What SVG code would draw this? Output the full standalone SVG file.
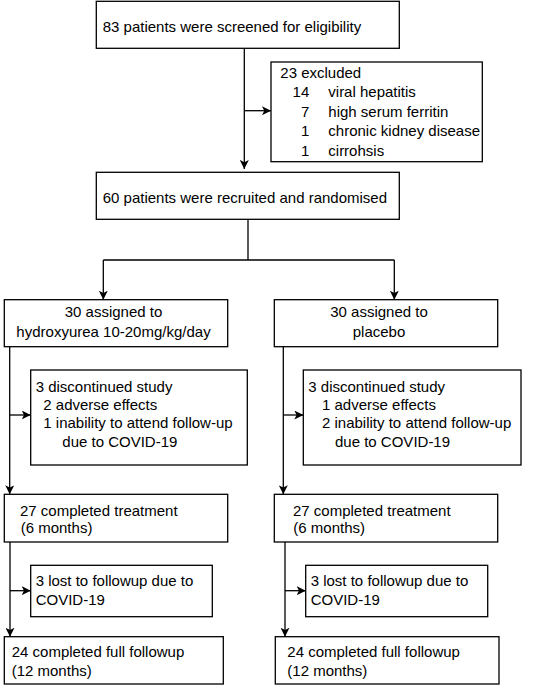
<svg xmlns="http://www.w3.org/2000/svg" width="533" height="685" viewBox="0 0 533 685">
<style>
  .box { fill: #ffffff; stroke: #000000; stroke-width: 1.3; }
  .ln { fill: none; stroke: #000000; stroke-width: 1.3; }
  text { font-family: "Liberation Sans", Arial, sans-serif; font-size: 15px; fill: #000000; }
  .c { text-anchor: middle; }
  .r { text-anchor: end; }
</style>
<defs>
  <marker id="arr" viewBox="0 0 10 10" refX="10" refY="5" markerWidth="9" markerHeight="9" markerUnits="userSpaceOnUse" orient="auto">
    <path d="M0,0 L10,5 L0,10 L2.5,5 Z" fill="#000000"/>
  </marker>
</defs>
<rect width="533" height="685" fill="#ffffff"/>

<g id="connectors">
  <path class="ln" d="M244.3,48.3 V169" marker-end="url(#arr)"/>
  <path class="ln" d="M244.3,110.7 H271" marker-end="url(#arr)"/>
  <path class="ln" d="M248,219.3 V260 M103.3,260 H394.3"/>
  <path class="ln" d="M103.3,260 V299.7" marker-end="url(#arr)"/>
  <path class="ln" d="M394.3,260 V299.7" marker-end="url(#arr)"/>
  <path class="ln" d="M9.7,346.7 V494.3" marker-end="url(#arr)"/>
  <path class="ln" d="M9.7,415 H30.7" marker-end="url(#arr)"/>
  <path class="ln" d="M283.3,346.7 V494.3" marker-end="url(#arr)"/>
  <path class="ln" d="M283.3,415 H303.3" marker-end="url(#arr)"/>
  <path class="ln" d="M10,542 V636.7" marker-end="url(#arr)"/>
  <path class="ln" d="M10,590.7 H30.7" marker-end="url(#arr)"/>
  <path class="ln" d="M285,542 V636.7" marker-end="url(#arr)"/>
  <path class="ln" d="M285,590.7 H305.7" marker-end="url(#arr)"/>
</g>

<g id="screened">
  <rect class="box" x="96.3" y="1.3" width="303" height="47"/>
  <text x="102.7" y="32.3">83 patients were screened for eligibility</text>
</g>

<g id="excluded">
  <rect class="box" x="271" y="62" width="211.3" height="99.7"/>
  <text x="280.3" y="77.5">23 excluded</text>
  <text class="r" x="309.3" y="97">14</text>
  <text x="328.3" y="97">viral hepatitis</text>
  <text class="r" x="309.3" y="116.5">7</text>
  <text x="328.3" y="116.5">high serum ferritin</text>
  <text class="r" x="309.3" y="136">1</text>
  <text x="328.3" y="136">chronic kidney disease</text>
  <text class="r" x="309.3" y="155.5">1</text>
  <text x="328.3" y="155.5">cirrohsis</text>
</g>

<g id="randomised">
  <rect class="box" x="96.3" y="172.3" width="303" height="47"/>
  <text x="102.7" y="203.3">60 patients were recruited and randomised</text>
</g>

<g id="hydroxyurea">
  <rect class="box" x="4.3" y="299.7" width="223.4" height="47"/>
  <text class="c" x="113.5" y="316.7">30 assigned to</text>
  <text class="c" x="113.5" y="336.7">hydroxyurea 10-20mg/kg/day</text>
</g>

<g id="placebo">
  <rect class="box" x="274.3" y="299.7" width="223.4" height="47"/>
  <text class="c" x="379" y="316.7">30 assigned to</text>
  <text class="c" x="379" y="336.7">placebo</text>
</g>

<g id="discontinued-left">
  <rect class="box" x="30.7" y="370" width="216.6" height="95"/>
  <text x="35.7" y="391.7">3 discontinued study</text>
  <text x="43.3" y="410">2 adverse effects</text>
  <text x="43.3" y="428.3">1 inability to attend follow-up</text>
  <text x="62.3" y="446.7">due to COVID-19</text>
</g>

<g id="discontinued-right">
  <rect class="box" x="303.3" y="370" width="217.7" height="95"/>
  <text x="308.3" y="391.7">3 discontinued study</text>
  <text x="322" y="410">1 adverse effects</text>
  <text x="322" y="428.3">2 inability to attend follow-up</text>
  <text x="335" y="446.7">due to COVID-19</text>
</g>

<g id="completed-left">
  <rect class="box" x="4.3" y="494.3" width="223.4" height="47.7"/>
  <text x="20" y="516">27 completed treatment</text>
  <text x="20.7" y="533.3">(6 months)</text>
</g>

<g id="completed-right">
  <rect class="box" x="274.3" y="494.3" width="223.4" height="47.7"/>
  <text x="293" y="516">27 completed treatment</text>
  <text x="293.3" y="533.3">(6 months)</text>
</g>

<g id="lost-left">
  <rect class="box" x="30.7" y="565.3" width="181.6" height="51.4"/>
  <text x="35.7" y="586">3 lost to followup due to</text>
  <text x="35.7" y="605">COVID-19</text>
</g>

<g id="lost-right">
  <rect class="box" x="305.7" y="565.3" width="182" height="51.4"/>
  <text x="310.7" y="586">3 lost to followup due to</text>
  <text x="310.7" y="605">COVID-19</text>
</g>

<g id="full-left">
  <rect class="box" x="4.3" y="636.7" width="219" height="47.3"/>
  <text x="11.7" y="656.7">24 completed full followup</text>
  <text x="11.7" y="675.7">(12 months)</text>
</g>

<g id="full-right">
  <rect class="box" x="275.3" y="636.7" width="223.7" height="47.3"/>
  <text x="287.3" y="656.7">24 completed full followup</text>
  <text x="287.3" y="675.7">(12 months)</text>
</g>
</svg>
